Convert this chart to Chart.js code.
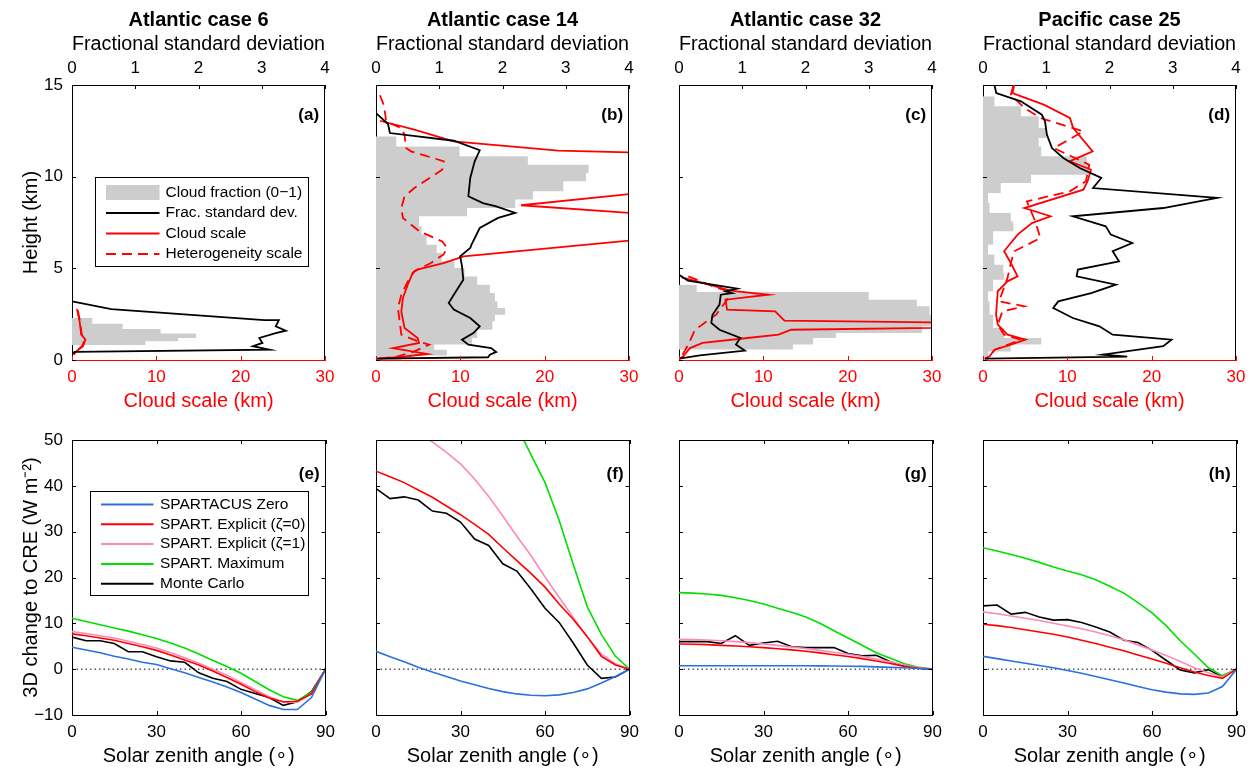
<!DOCTYPE html>
<html>
<head>
<meta charset="utf-8">
<script src="https://cdn.jsdelivr.net/npm/chart.js@4.4.1/dist/chart.umd.min.js"></script>
<style>
body { margin: 0; background: #fff; overflow: hidden; }
#fig { position: relative; width: 1251px; height: 768px; }
#fig canvas { position: absolute; }
</style>
</head>
<body>
<div id="fig"></div>
<script>
// ---- titles ----
const caseTitles = ["Atlantic case 6", "Atlantic case 14", "Atlantic case 32", "Pacific case 25"];
const topTags = ["(a)", "(b)", "(c)", "(d)"];
const bottomTags = ["(e)", "(f)", "(g)", "(h)"];

// ---- top row: profiles vs height (km) ----
// cloud fraction layers: layer edges (km) and fraction of each layer
const cfEdgesA = [0.8, 1.02, 1.2, 1.44, 1.69, 1.98, 2.29];
const cfA = [0.29, 0.42, 0.49, 0.35, 0.20, 0.08];
const fsdHgtA = [3.2, 2.78, 2.18, 2.18, 1.84, 1.6, 1.47, 1.2, 0.93, 0.75, 0.56, 0.44, 0.33];
const fsdA = [0, 0.62, 3.04, 3.27, 3.22, 3.38, 3.22, 2.96, 3.01, 2.86, 3.12, 0.04, 0];
const csHgtA = [2.78, 2.11, 1.38, 1.11, 0.75, 0.44, 0.29];
const csA = [0.59, 0.9, 1.1, 1.6, 1.3, 0.43, 0.2];
const hsHgtA = [2.7, 2.1, 1.4, 1.15, 0.8, 0.45, 0.3];
const hsA = [0.7, 0.95, 1.15, 1.5, 1.25, 0.5, 0.25];

const cfEdgesB = [0, 0.25, 0.56, 0.84, 1.2, 1.65, 2.11, 2.47, 2.84, 3.2, 3.65, 4.11, 4.56, 5.02, 5.38, 5.84, 6.29, 6.84, 7.29, 7.84, 8.29, 8.75, 9.2, 9.75, 10.2, 10.65, 11.11, 11.65, 12.2];
const cfB = [0.1, 0.28, 0.23, 0.38, 0.40, 0.46, 0.47, 0.51, 0.48, 0.47, 0.45, 0.40, 0.35, 0.31, 0.26, 0.24, 0.20, 0.18, 0.17, 0.36, 0.55, 0.62, 0.74, 0.83, 0.84, 0.60, 0.33, 0.08];
const fsdHgtB = [13.47, 12.87, 12.38, 11.96, 11.44, 10.84, 9.93, 8.93, 8.56, 8.38, 8.02, 7.75, 7.2, 6.29, 6.11, 5.65, 5.11, 4.38, 3.56, 3.11, 2.75, 2.29, 1.84, 1.47, 1.11, 0.84, 0.65, 0.44, 0.29, 0.15, 0.07];
const fsdB = [0, 0.19, 0.22, 1.23, 1.64, 1.56, 1.49, 1.46, 1.69, 1.90, 2.20, 1.93, 1.64, 1.51, 1.49, 1.33, 1.36, 1.38, 1.23, 1.15, 1.23, 1.49, 1.64, 1.54, 1.36, 1.46, 1.82, 1.90, 1.80, 1.77, 0];
const csHgtB = [13.05, 12.56, 11.93, 11.42, 10.58, 10.48, 8.44, 7.04, 7.83, 5.65, 5.29, 4.93, 4.75, 4.11, 3.38, 2.65, 1.75, 1.2, 0.93, 0.65, 0.33, 0.15, 0.07];
const csB = [0.47, 4.55, 9.2, 21.6, 100, 60, 17.2, 60, 60, 10.4, 8.0, 4.9, 4.35, 3.77, 3.19, 3.0, 3.38, 4.94, 5.1, 2.0, 6.1, 2.6, 0.27];
const hsHgtB = [14.44, 13.93, 13.38, 13.0, 12.65, 12.29, 11.56, 11.38, 10.84, 10.38, 9.38, 8.93, 8.29, 7.75, 7.02, 6.47, 6.11, 5.75, 5.29, 4.84, 4.29, 3.56, 2.84, 2.11, 1.38, 1.02, 0.84, 0.47, 0.2, 0.07];
const hsB = [0.47, 0.9, 1.1, 1.2, 3.0, 3.38, 3.57, 4.16, 8.04, 7.85, 4.55, 3.38, 3.0, 3.19, 5.13, 7.85, 8.43, 8.0, 6.5, 4.55, 3.77, 3.0, 2.6, 2.8, 3.0, 4.94, 6.3, 4.55, 2.6, 0.27];

const cfEdgesC = [0.56, 0.84, 1.2, 1.47, 1.84, 2.11, 2.47, 2.93, 3.29, 3.71, 4.11];
const cfC = [0.45, 0.53, 0.62, 0.96, 1.0, 1.0, 0.99, 0.94, 0.75, 0.07];
const fsdHgtC = [4.65, 4.33, 3.89, 3.75, 3.65, 3.56, 3.02, 2.47, 2.02, 1.65, 1.2, 0.84, 0.51, 0.25, 0.07];
const fsdC = [0, 0.14, 0.92, 0.74, 0.84, 0.66, 0.64, 0.53, 0.51, 0.64, 0.97, 0.90, 1.04, 0.33, 0];
const csHgtC = [4.51, 4.11, 3.78, 3.56, 3.29, 2.75, 2.65, 2.15, 1.88, 1.93, 1.65, 1.38, 1.16, 0.93, 0.65, 0.2, 0.07];
const csC = [0.3, 3.6, 6.1, 10.6, 5.5, 5.7, 11.4, 12.5, 60, 60, 13.3, 11.8, 7.3, 2.8, 1.3, 0.5, 0.1];
const hsHgtC = [4.56, 4.02, 3.78, 3.29, 2.47, 1.65, 0.84, 0.2, 0.07];
const hsC = [1.1, 4.0, 5.6, 5.7, 4.4, 1.9, 1.1, 0.3, 0.1];

const cfEdgesD = [0, 0.47, 0.84, 1.2, 1.75, 2.47, 3.2, 3.75, 4.38, 4.75, 5.2, 5.75, 6.29, 7.02, 7.56, 8.02, 8.56, 9.11, 9.65, 10.11, 10.65, 11.11, 11.65, 12.11, 12.65, 13.29, 13.84, 14.38];
const cfD = [0.02, 0.11, 0.23, 0.084, 0.04, 0.026, 0.02, 0.04, 0.084, 0.08, 0.045, 0.02, 0.04, 0.12, 0.11, 0.026, 0.02, 0.07, 0.19, 0.42, 0.41, 0.23, 0.22, 0.25, 0.22, 0.15, 0.045];
const fsdHgtD = [15.0, 14.56, 14.11, 13.38, 13.02, 12.29, 11.56, 11.02, 10.47, 9.93, 9.38, 8.84, 8.29, 7.84, 7.29, 6.84, 6.38, 5.93, 5.38, 4.93, 4.56, 4.11, 3.65, 3.2, 2.84, 2.29, 1.84, 1.38, 1.11, 0.75, 0.29, 0.18, 0.07];
const fsdD = [0.18, 0.21, 0.60, 0.93, 0.98, 1.01, 1.09, 1.27, 1.53, 1.87, 1.74, 3.70, 2.85, 1.42, 1.94, 2.02, 2.36, 2.05, 2.15, 1.50, 1.48, 2.10, 1.71, 1.19, 1.11, 1.42, 1.84, 2.05, 2.98, 2.85, 1.89, 2.28, 0.03];
const csHgtD = [15.0, 14.56, 13.93, 13.2, 12.65, 11.38, 10.84, 10.38, 9.75, 9.29, 8.29, 7.84, 7.47, 6.84, 5.93, 5.29, 4.56, 4.29, 3.75, 2.47, 1.93, 1.38, 1.11, 0.84, 0.56, 0.2, 0.07];
const csD = [3.7, 3.5, 7.2, 10.3, 10.7, 13.0, 10.3, 12.8, 12.4, 11.9, 4.9, 8.0, 5.8, 4.1, 2.5, 3.3, 4.1, 2.9, 1.75, 1.55, 1.75, 2.9, 5.05, 3.3, 1.36, 0.78, 0.2];
const hsHgtD = [14.98, 14.47, 13.75, 13.2, 12.47, 11.56, 10.65, 9.75, 9.2, 8.65, 7.56, 6.65, 5.93, 5.29, 4.47, 3.2, 2.93, 2.65, 1.93, 1.38, 1.11, 0.56, 0.11];
const hsD = [3.6, 3.3, 4.9, 6.8, 11.9, 8.4, 12.6, 12.2, 10.3, 5.2, 6.2, 6.8, 3.7, 3.3, 2.9, 1.9, 4.9, 2.3, 1.75, 2.5, 4.5, 1.4, 0.6];

// ---- bottom row: 3D change to CRE (W m-2) vs solar zenith angle ----
const sza = [0, 5, 10, 15, 20, 25, 30, 35, 40, 45, 50, 55, 60, 65, 70, 75, 80, 85, 90];

const zeroE = [4.8, 4.2, 3.6, 2.8, 2.2, 1.5, 1.0, 0.1, -0.8, -1.8, -2.8, -3.9, -5.1, -6.5, -7.9, -8.8, -8.8, -6.2, 0];
const expl0E = [7.7, 7.3, 6.8, 6.3, 5.6, 4.9, 4.1, 3.1, 2.0, 0.9, -0.4, -1.8, -3.3, -4.9, -6.3, -7.1, -7.0, -5.4, 0];
const expl1E = [8.2, 7.8, 7.3, 6.8, 6.1, 5.4, 4.6, 3.6, 2.5, 1.3, 0.0, -1.3, -2.9, -4.5, -6.0, -7.2, -7.2, -5.4, 0];
const maxE = [11.1, 10.4, 9.7, 9.0, 8.3, 7.5, 6.7, 5.7, 4.6, 3.3, 1.9, 0.6, -0.9, -2.7, -4.5, -6.0, -6.8, -5.1, 0];
const mcE = [7.0, 6.2, 6.2, 5.6, 3.8, 3.8, 2.7, 1.8, 1.5, -0.8, -2.0, -2.7, -4.4, -5.3, -6.2, -7.9, -7.1, -4.9, 0];

const zeroF = [3.9, 2.7, 1.6, 0.4, -0.6, -1.6, -2.6, -3.4, -4.2, -4.9, -5.4, -5.7, -5.8, -5.6, -5.1, -4.3, -3.0, -1.6, 0];
const expl0F = [43.2, 42.0, 40.7, 39.1, 37.5, 35.6, 33.7, 31.6, 29.4, 26.5, 23.7, 20.9, 17.9, 14.2, 10.9, 7.1, 2.8, 0.9, 0];
const expl1F = [56.5, 55.0, 53.3, 51.5, 49.6, 47.3, 44.8, 41.5, 37.7, 33.4, 29.0, 24.8, 20.1, 15.7, 11.3, 7.0, 3.3, 1.2, 0];
const maxF = [81, 80.5, 79.5, 78, 76, 73.5, 70.5, 67, 63, 58.5, 53, 46.8, 40.7, 32.5, 22.9, 13.6, 7.6, 2.8, 0];
const mcF = [39.4, 37.2, 37.6, 36.9, 34.5, 34.0, 32.1, 28.4, 27.0, 23.0, 21.4, 17.5, 13.3, 10.2, 5.7, 0.9, -2.0, -1.7, 0];

const zeroG = [0.75, 0.75, 0.75, 0.75, 0.75, 0.75, 0.75, 0.75, 0.75, 0.75, 0.72, 0.7, 0.65, 0.6, 0.5, 0.4, 0.3, 0.15, 0];
const expl0G = [5.5, 5.45, 5.35, 5.2, 5.05, 4.9, 4.7, 4.45, 4.2, 3.9, 3.55, 3.15, 2.75, 2.3, 1.8, 1.25, 0.6, 0.2, 0];
const expl1G = [6.5, 6.45, 6.35, 6.2, 6.0, 5.8, 5.5, 5.2, 4.85, 4.5, 4.1, 3.7, 3.25, 2.75, 2.2, 1.6, 0.9, 0.3, 0];
const maxG = [16.7, 16.6, 16.4, 16.1, 15.6, 15.0, 14.2, 13.3, 12.4, 11.4, 10.0, 8.4, 6.8, 5.2, 3.6, 2.4, 1.2, 0.4, 0];
const mcG = [6.0, 6.0, 6.0, 5.6, 7.3, 5.2, 5.7, 6.1, 4.9, 4.7, 4.7, 4.7, 3.4, 2.9, 3.05, 1.6, 0.7, 0.2, 0];

const zeroH = [2.8, 2.3, 1.8, 1.3, 0.8, 0.3, -0.3, -0.9, -1.6, -2.3, -3.0, -3.8, -4.5, -5.0, -5.4, -5.5, -5.2, -3.8, 0];
const expl0H = [9.8, 9.5, 9.1, 8.6, 8.1, 7.6, 7.0, 6.3, 5.6, 4.8, 4.0, 3.1, 2.2, 1.3, 0.3, -0.6, -1.4, -2.0, 0];
const expl1H = [12.5, 12.1, 11.6, 11.1, 10.6, 10.0, 9.4, 8.8, 8.1, 7.3, 6.4, 5.3, 4.2, 3.0, 1.7, 0.3, -0.8, -1.7, 0];
const maxH = [26.5, 25.8, 25.0, 24.2, 23.3, 22.3, 21.4, 20.6, 19.5, 18.1, 16.6, 14.5, 12.3, 9.5, 6.2, 3.3, 0.3, -1.4, 0];
const mcH = [13.8, 14.0, 12.0, 12.4, 11.4, 10.7, 10.8, 10.2, 9.2, 8.1, 6.3, 5.8, 4.1, 1.95, -0.2, -0.8, -0.1, -1.7, 0];

// dotted reference line at zero
const refX = [0, 90];
const refY = [0, 0];

// ---- styles ----
const FONT = '"Liberation Sans", Arial, Helvetica, sans-serif';
const RED = '#ff0000';
const GREY = '#cdcdcd';
const BLUE = '#2a70e0';
const PINK = '#ff88b8';
const GREEN = '#00e000';
const panelLeft = [72, 376, 679, 983];
const panelW = 258;

Chart.defaults.font.family = FONT;
Chart.defaults.font.size = 17;
Chart.defaults.color = '#000';
Chart.defaults.animation = false;

const fig = document.getElementById('fig');

function zip(xs, ys) {
    return xs.map((x, i) => ({x: x, y: ys[i]}));
}

// stepped outline of the cloud fraction layers, filled to zero
function layers(edges, vals) {
    let p = [{x: 0, y: edges[0]}];
    vals.forEach((v, i) => p.push({x: v, y: edges[i + 1]}));
    p.push({x: 0, y: edges[edges.length - 1]});
    return p;
}

function minusTick(v) {
    return v < 0 ? '\u2212' + Math.abs(v) : String(v);
}

// no grid lines and no outward tick marks: ticks are drawn inward by deco
const noGrid = {display: false, drawTicks: false};

// inward ticks, closing box edges, panel tag and boxed legend
const deco = {
    id: 'deco',
    afterDatasetsDraw(chart, args, o) {
        const ctx = chart.ctx;
        const a = chart.chartArea;
        const len = 4;
        ctx.save();
        ctx.lineWidth = 1;
        Object.values(chart.scales).forEach(s => {
            if (!s.options.display) return;
            ctx.strokeStyle = s.options.border.color;
            s.ticks.forEach(t => {
                const p = Math.round(s.getPixelForValue(t.value)) + 0.5;
                ctx.beginPath();
                if (s.isHorizontal()) {
                    if (s.position === 'top' || o.mirror) { ctx.moveTo(p, a.top); ctx.lineTo(p, a.top + len); }
                    if (s.position === 'bottom' || o.mirror) { ctx.moveTo(p, a.bottom); ctx.lineTo(p, a.bottom - len); }
                } else {
                    ctx.moveTo(a.left, p); ctx.lineTo(a.left + len, p);
                    if (o.mirror) { ctx.moveTo(a.right, p); ctx.lineTo(a.right - len, p); }
                }
                ctx.stroke();
            });
        });
        ctx.strokeStyle = '#000';
        ctx.beginPath();
        const r = Math.round(a.right) - 0.5;
        const t = Math.round(a.top) + 0.5;
        if (o.mirror) { ctx.moveTo(a.left, t); ctx.lineTo(r, t); }
        ctx.moveTo(r, a.top); ctx.lineTo(r, a.bottom);
        ctx.stroke();

        ctx.fillStyle = '#000';
        ctx.font = 'bold 17px ' + FONT;
        ctx.textAlign = 'right';
        ctx.textBaseline = 'middle';
        ctx.fillText(o.tag, a.right - 6, a.top + o.tagDy);

        if (o.legend) {
            const L = o.legend;
            const x0 = Math.round(a.left + L.x) + 0.5;
            const y0 = Math.round(a.top + L.y) + 0.5;
            ctx.fillStyle = '#fff';
            ctx.fillRect(x0, y0, L.w, L.h);
            ctx.strokeStyle = '#000';
            ctx.strokeRect(x0, y0, L.w, L.h);
            ctx.font = '15.5px ' + FONT;
            ctx.textAlign = 'left';
            chart.data.datasets.filter(d => d.label).forEach((d, i) => {
                const y = y0 + L.first + i * L.step;
                if (d.fill) {
                    ctx.fillStyle = d.backgroundColor;
                    ctx.fillRect(x0 + 10.5, y - 7.5, 53.5, 15);
                } else {
                    ctx.strokeStyle = d.borderColor;
                    ctx.lineWidth = 2;
                    ctx.setLineDash(d.borderDash || []);
                    ctx.beginPath();
                    ctx.moveTo(x0 + 10.5, y);
                    ctx.lineTo(x0 + L.sym, y);
                    ctx.stroke();
                    ctx.setLineDash([]);
                }
                ctx.fillStyle = '#000';
                ctx.fillText(d.label, x0 + L.tx, y);
            });
        }
        ctx.restore();
    }
};

function addCanvas(k, top, h) {
    const cv = document.createElement('canvas');
    cv.width = 72 + panelW + 12;
    cv.height = h;
    cv.style.left = (panelLeft[k] - 72) + 'px';
    cv.style.top = top + 'px';
    fig.appendChild(cv);
    return cv;
}

function profilePanel(k, p) {
    const first = k === 0;
    new Chart(addCanvas(k, 0, 420), {
        type: 'line',
        data: {
            datasets: [
                {label: 'Cloud fraction (0\u22121)', data: layers(p.cfEdges, p.cf), xAxisID: 'xf', stepped: true,
                 fill: 'origin', backgroundColor: GREY, borderColor: GREY, borderWidth: 0, order: 10},
                {label: 'Frac. standard dev.', data: zip(p.fsd, p.fsdHgt), xAxisID: 'xt', borderColor: '#000', borderWidth: 1.8},
                {label: 'Cloud scale', data: zip(p.cs, p.csHgt), xAxisID: 'xb', borderColor: RED, borderWidth: 1.8},
                {label: 'Heterogeneity scale', data: zip(p.hs, p.hsHgt), xAxisID: 'xb', borderColor: RED, borderWidth: 1.8, borderDash: [10, 6]}
            ]
        },
        options: {
            responsive: false,
            indexAxis: 'y',
            layout: {padding: {top: 8.5, right: 12, left: 0, bottom: 0}},
            elements: {point: {radius: 0}, line: {tension: 0}},
            plugins: {
                legend: {display: false},
                tooltip: {enabled: false},
                title: {display: true, text: caseTitles[k], fullSize: false, padding: 0, font: {size: 20, weight: 'bold'}},
                deco: {tag: topTags[k], tagDy: 30, mirror: false,
                       legend: first ? {x: 23, y: 91.5, w: 213, h: 89, first: 15, step: 20.5, tx: 70, sym: 64} : null}
            },
            scales: {
                y: {type: 'linear', position: 'left', min: 0, max: 15,
                    grid: noGrid, border: {display: true, color: '#000'},
                    ticks: {stepSize: 5, padding: 9, display: first},
                    title: {display: first, text: 'Height (km)', font: {size: 20}, padding: {top: 19, bottom: 0}},
                    afterFit: s => { s.width = 72; }},
                xt: {type: 'linear', position: 'top', min: 0, max: 4,
                     grid: noGrid, border: {display: true, color: '#000'},
                     ticks: {stepSize: 1, padding: 6.5},
                     title: {display: true, text: 'Fractional standard deviation', font: {size: 20}, padding: {top: 0, bottom: 0}},
                     afterFit: s => { s.height = 52.5; }},
                xb: {type: 'linear', position: 'bottom', min: 0, max: 30,
                     grid: noGrid, border: {display: true, color: RED},
                     ticks: {stepSize: 10, padding: 7.5, color: RED},
                     title: {display: true, text: 'Cloud scale (km)', color: RED, font: {size: 20}, padding: {top: 0, bottom: 7}},
                     afterFit: s => { s.height = 60; }},
                xf: {type: 'linear', display: false, min: 0, max: 1}
            }
        },
        plugins: [deco]
    });
}

function szaPanel(k, s) {
    const first = k === 0;
    new Chart(addCanvas(k, 420, 348), {
        type: 'line',
        data: {
            datasets: [
                {label: 'SPARTACUS Zero', data: zip(sza, s.zero), borderColor: BLUE},
                {label: 'SPART. Explicit (\u03b6=0)', data: zip(sza, s.expl0), borderColor: RED},
                {label: 'SPART. Explicit (\u03b6=1)', data: zip(sza, s.expl1), borderColor: PINK},
                {label: 'SPART. Maximum', data: zip(sza, s.max), borderColor: GREEN},
                {label: 'Monte Carlo', data: zip(sza, s.mc), borderColor: '#000'},
                {data: zip(refX, refY), borderColor: '#000', borderWidth: 1, borderDash: [1.5, 3], order: 10}
            ]
        },
        options: {
            responsive: false,
            layout: {padding: {top: 20, right: 12, left: 0, bottom: 0}},
            elements: {point: {radius: 0}, line: {tension: 0, borderWidth: 1.6}},
            plugins: {
                legend: {display: false},
                tooltip: {enabled: false},
                deco: {tag: bottomTags[k], tagDy: 34, mirror: true,
                       legend: first ? {x: 18, y: 51, w: 218, h: 104, first: 13, step: 19.8, tx: 69.5, sym: 63} : null}
            },
            scales: {
                x: {type: 'linear', position: 'bottom', min: 0, max: 90,
                    grid: noGrid, border: {display: true, color: '#000'},
                    ticks: {stepSize: 30, padding: 7},
                    title: {display: true, text: 'Solar zenith angle (\u2218)', font: {size: 20}, padding: {top: 0, bottom: 0}},
                    afterFit: sc => { sc.height = 53; }},
                y: {type: 'linear', position: 'left', min: -10, max: 50,
                    grid: noGrid, border: {display: true, color: '#000'},
                    ticks: {stepSize: 10, padding: 9, display: first, callback: minusTick},
                    title: {display: first, text: '3D change to CRE (W m\u207b\u00b2)', font: {size: 20}, padding: {top: 19, bottom: 0}},
                    afterFit: sc => { sc.width = 72; }}
            }
        },
        plugins: [deco]
    });
}

const profiles = [
    {cfEdges: cfEdgesA, cf: cfA, fsdHgt: fsdHgtA, fsd: fsdA, csHgt: csHgtA, cs: csA, hsHgt: hsHgtA, hs: hsA},
    {cfEdges: cfEdgesB, cf: cfB, fsdHgt: fsdHgtB, fsd: fsdB, csHgt: csHgtB, cs: csB, hsHgt: hsHgtB, hs: hsB},
    {cfEdges: cfEdgesC, cf: cfC, fsdHgt: fsdHgtC, fsd: fsdC, csHgt: csHgtC, cs: csC, hsHgt: hsHgtC, hs: hsC},
    {cfEdges: cfEdgesD, cf: cfD, fsdHgt: fsdHgtD, fsd: fsdD, csHgt: csHgtD, cs: csD, hsHgt: hsHgtD, hs: hsD}
];
const szaCases = [
    {zero: zeroE, expl0: expl0E, expl1: expl1E, max: maxE, mc: mcE},
    {zero: zeroF, expl0: expl0F, expl1: expl1F, max: maxF, mc: mcF},
    {zero: zeroG, expl0: expl0G, expl1: expl1G, max: maxG, mc: mcG},
    {zero: zeroH, expl0: expl0H, expl1: expl1H, max: maxH, mc: mcH}
];

profiles.forEach((p, k) => profilePanel(k, p));
szaCases.forEach((s, k) => szaPanel(k, s));
</script>
</body>
</html>
